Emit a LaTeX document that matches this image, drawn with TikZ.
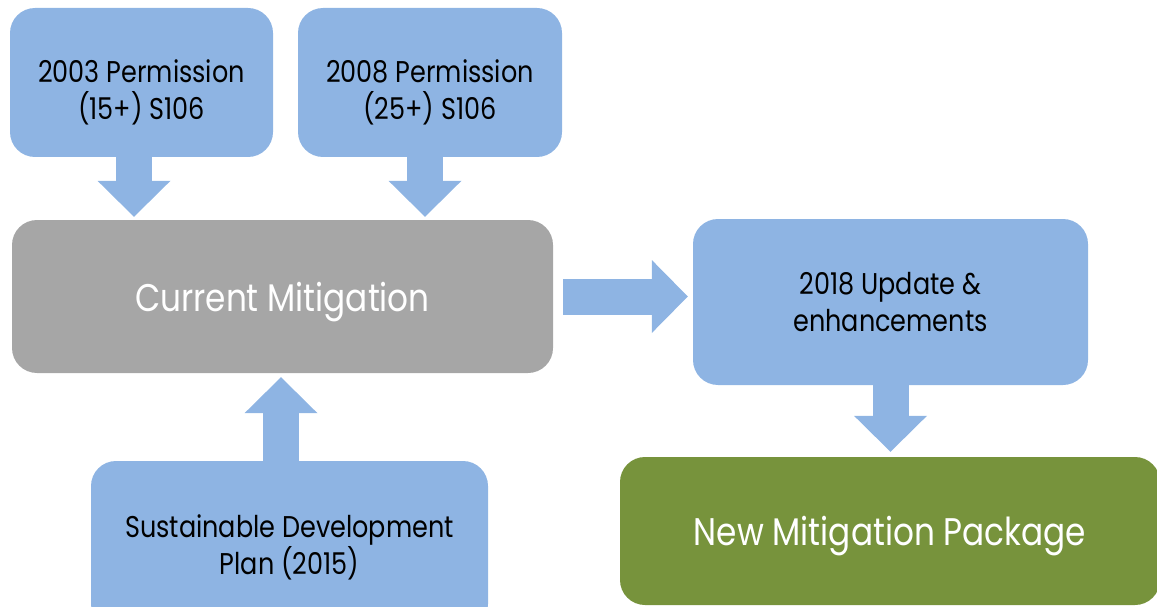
\documentclass[tikz,border=0pt]{standalone}
\usepackage{fontspec}
\setmainfont{Poppins}[FakeStretch=0.85]
\usetikzlibrary{arrows.meta}
\definecolor{boxblue}{HTML}{8EB4E3}
\definecolor{boxgray}{HTML}{A6A6A6}
\definecolor{boxgreen}{HTML}{77933C}
\newcommand{\padtop}{\rule{0pt}{38pt}}

\begin{document}
\begin{tikzpicture}[x=1pt,y=-1pt]
		\tikzset{box/.style={rounded corners=25pt,inner sep=0pt,align=center,text depth=0pt,fill=#1},
		         bigarrow/.style={draw=boxblue,line width=36pt,-{Triangle[width=73pt,length=36pt,line width=0pt]}},
		         darktext/.style={font=\fontsize{30}{37}\selectfont,text=black},
		         lighttext/.style={font=\fontsize{38.5}{40}\selectfont,text=white}}
		\useasboundingbox (0,0) rectangle (1157,607);
		\clip (0,0) rectangle (1157,607);
		
		\node [box=boxblue,darktext,minimum width=263pt,minimum height=149pt] (p03) at (141.5,82.5) {\padtop 2003 Permission\\(15+) S106};
		\node [box=boxblue,darktext,minimum width=264pt,minimum height=149pt] (p08) at (430,82.5) {\padtop 2008 Permission\\(25+) S106};
		\node [box=boxgray,lighttext,minimum width=541pt,minimum height=153pt] (cur) at (282.5,296.5) {Current Mitigation};
		\node [box=boxblue,darktext,minimum width=397pt,minimum height=168pt] (sdp) at (289.5,545) {Sustainable Development\\Plan (2015)};
		\node [box=boxblue,darktext,minimum width=395pt,minimum height=166pt] (upd) at (890.5,302) {2018 Update \&\\enhancements};
		\node [box=boxgreen,lighttext,minimum width=540pt,minimum height=148pt] (nmp) at (890,531) {New Mitigation Package};
		
		\draw[bigarrow,shorten >=3pt] ([xshift=-7.5pt]p03.south) -- ([xshift=-7.5pt]p03.south |- cur.north);
		\draw[bigarrow,shorten >=3pt] ([xshift=-5pt]p08.south) -- ([xshift=-5pt]p08.south |- cur.north);
		\draw[bigarrow,shorten >=4pt] ([xshift=-8.5pt]sdp.north) -- ([xshift=-8.5pt]sdp.north |- cur.south);
		\draw[bigarrow,shorten <=10pt,shorten >=5pt] (cur.east) -- (cur.east -| upd.west);
		\draw[bigarrow,shorten >=5pt] (upd.south) -- (upd.south |- nmp.north);
\end{tikzpicture}
\end{document}
